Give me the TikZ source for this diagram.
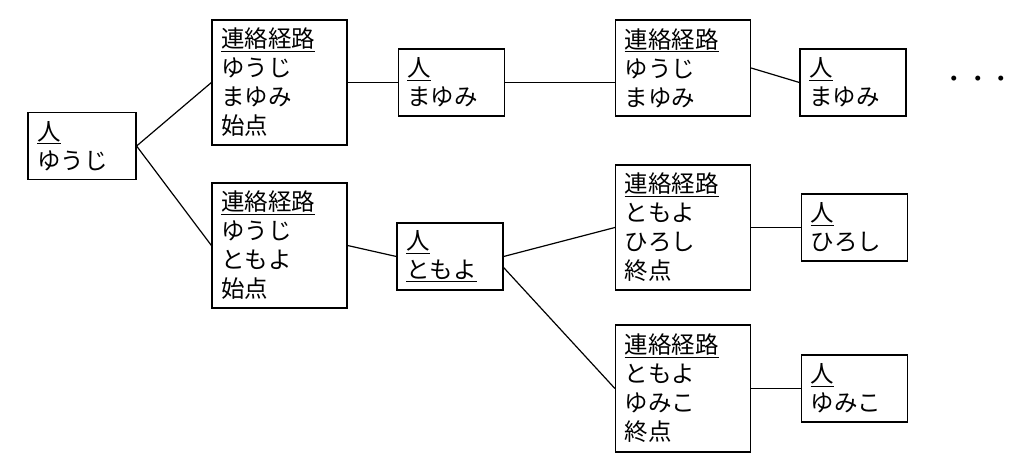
\documentclass[tikz,border=0pt]{standalone}
\usepackage{fontspec}
\setmainfont{Noto Sans CJK JP}
\usetikzlibrary{positioning}

\begin{document}
\begin{tikzpicture}[x=1pt, y=-1pt, node distance=50pt, auto, line width=1.2pt,
  box/.style={draw, align=left, inner xsep=9pt, inner ysep=0pt,
    font=\fontsize{23.5}{29}\selectfont},
  person/.style={box, minimum width=106pt, minimum height=67pt, text width=88pt},
  route/.style={box, minimum width=135pt, minimum height=125pt, text width=117pt}]
  \useasboundingbox (0,0) rectangle (1024,463);
  \node (yuji) [person, minimum width=108pt, text width=90pt] at (82,146) {\underline{人}\\ゆうじ};
  \node (r1) [route] at (279.5,82.5) {\underline{連絡経路}\\ゆうじ\\まゆみ\\始点};
  \node (r2) [route] at (279.5,245.5) {\underline{連絡経路}\\ゆうじ\\ともよ\\始点};
  \node (mayumi) [person, right=of r1] {\underline{人}\\まゆみ};
  \node (tomoyo) [person] at (450,256.5) {\underline{人}\\\underline{ともよ}};
  \node (r3) [route, minimum height=96pt] at (683,68) {\underline{連絡経路}\\ゆうじ\\まゆみ};
  \node (r4) [route] at (683,227.5) {\underline{連絡経路}\\ともよ\\ひろし\\終点};
  \node (r5) [route, minimum height=127pt] at (683,388.5) {\underline{連絡経路}\\ともよ\\ゆみこ\\終点};
  \node (mayumi2) [person] at (853,82.5) {\underline{人}\\まゆみ};
  \node (hiroshi) [person, right=of r4] {\underline{人}\\ひろし};
  \node (yumiko) [person, right=of r5] {\underline{人}\\ゆみこ};
  \node (more) [font=\fontsize{23.5}{29}\selectfont] at (978,82) {・・・};
  \draw (yuji.east) -- (r1.west);
  \draw (yuji.east) -- (r2.west);
  \draw (r1) -- (mayumi);
  \draw (mayumi.east) -- (mayumi.east -| r3.west);
  \draw (r3.east) -- (mayumi2.west);
  \draw (r2.east) -- (tomoyo.west);
  \draw (tomoyo.east) -- (r4.west);
  \draw ([yshift=-11pt]tomoyo.east) -- (r5.west);
  \draw (r4) -- (hiroshi);
  \draw (r5) -- (yumiko);
\end{tikzpicture}
\end{document}
